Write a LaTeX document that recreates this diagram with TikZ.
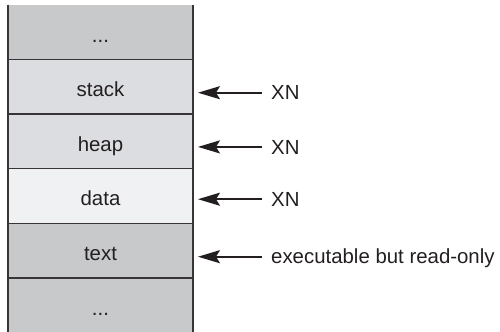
\documentclass[tikz,border=0pt]{standalone}
\usepackage{fontspec}
\setmainfont{Liberation Sans}
\usetikzlibrary{arrows.meta}
\definecolor{ink}{HTML}{231F20}
\definecolor{segdark}{HTML}{C8C9CB}
\definecolor{segmid}{HTML}{DCDDE0}
\definecolor{seglight}{HTML}{F0F1F3}
\tikzset{
    cell/.style={rectangle, draw=none, minimum width=184.5bp, inner xsep=0pt, inner ysep=0pt,
                 text height=37.4bp, text depth=17.2bp, text=ink},
    rule/.style={-, draw=ink!90, line width=1.5bp},
    pointer/.style={-{Stealth[length=22bp,width=13bp,inset=4bp]}, draw=ink, line width=2bp,
                    shorten <=9bp, shorten >=5bp},
    note/.style={anchor=west, inner sep=0pt, text height=14.3bp, text depth=0pt, text=ink},
}

\begin{document}
\begin{tikzpicture}[x=1bp, y=-1bp, font=\fontsize{20.4bp}{24bp}\selectfont]
\useasboundingbox (0,0) rectangle (500,331);
\node[cell, fill=segdark] (top) at (100.5, 32) {...};
\node[cell, fill=segmid] (stack) at (100.5, 86.6) {stack};
\node[cell, fill=segmid] (heap) at (100.5, 141.2) {heap};
\node[cell, fill=seglight] (data) at (100.5, 195.8) {data};
\node[cell, fill=segdark] (text) at (100.5, 250.4) {text};
\node[cell, fill=segdark] (bot) at (100.5, 305) {...};
\draw[rule] (top.north west) -- (bot.south west);
\draw[rule] (top.north east) -- (bot.south east);
\draw[rule] (top.south west) -- (top.south east);
\draw[rule] (stack.south west) -- (stack.south east);
\draw[rule] (heap.south west) -- (heap.south east);
\draw[rule] (data.south west) -- (data.south east);
\draw[rule] (text.south west) -- (text.south east);
\node[note] (xn1) at (271, 92.7) {XN};
\node[note] (xn2) at (271, 146.9) {XN};
\node[note] (xn3) at (271, 199.2) {XN};
\node[note] (exec) at (271, 256.7) {executable but read-only};
\draw[pointer] (xn1.west) -- (xn1.west -| stack.east);
\draw[pointer] (xn2.west) -- (xn2.west -| heap.east);
\draw[pointer] (xn3.west) -- (xn3.west -| data.east);
\draw[pointer] (exec.west) -- (exec.west -| text.east);
\end{tikzpicture}
\end{document}
